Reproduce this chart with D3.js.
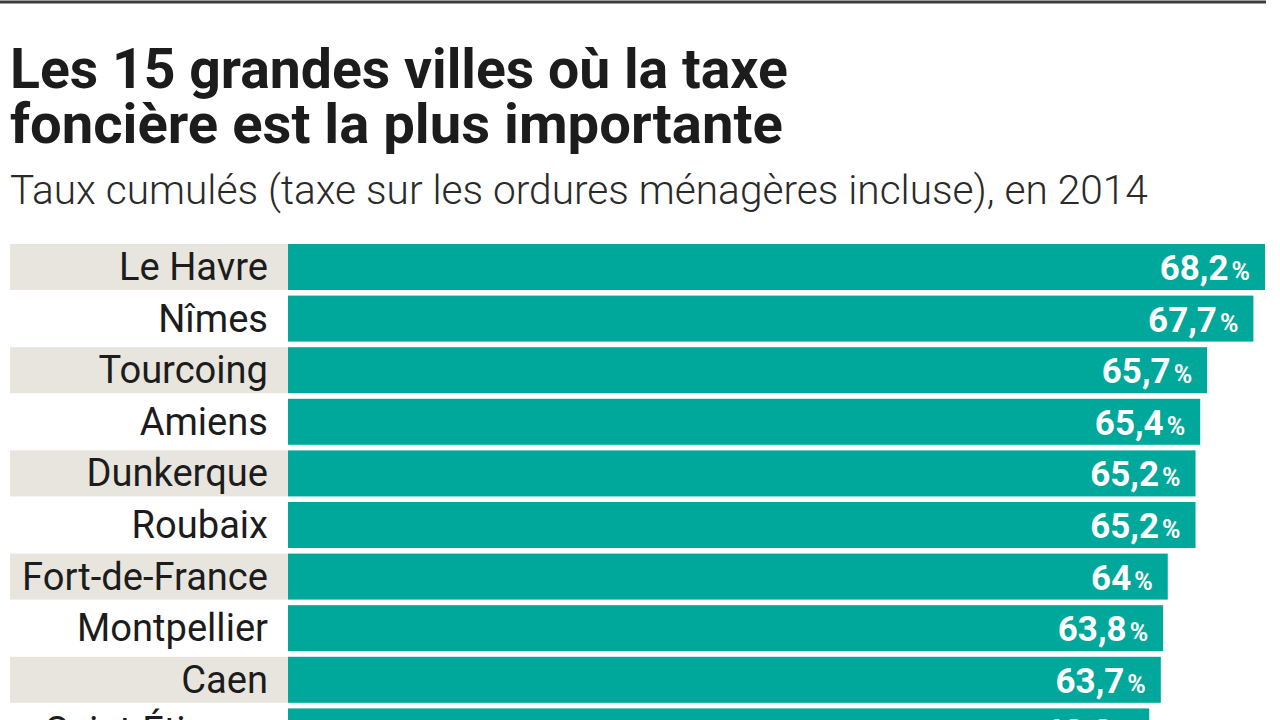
<!DOCTYPE html>
<html><head><meta charset="utf-8">
<script src="https://cdn.jsdelivr.net/npm/d3@7"></script>
<style>
html,body{margin:0;padding:0;background:#fff;}
svg{display:block;}
</style></head>
<body>
<svg id="c" width="1280" height="720"></svg>
<script>
const cities = ["Le Havre","Nîmes","Tourcoing","Amiens","Dunkerque","Roubaix","Fort-de-France","Montpellier","Caen","Saint-Étienne"];
const values = [68.2,67.7,65.7,65.4,65.2,65.2,64,63.8,63.7,63.2];
const titleLines = ["Les 15 grandes villes où la taxe","foncière est la plus importante"];
const subtitle = "Taux cumulés (taxe sur les ordures ménagères incluse), en 2014";

const svg = d3.select("#c");

// top rule
svg.append("line").attr("x1",0).attr("x2",1266).attr("y1",2).attr("y2",2)
  .attr("stroke","#3c3c3c").attr("stroke-width",3);

function squeeze(sel, target){
  const w = sel.node().getComputedTextLength();
  if (w > target) sel.attr("textLength", target).attr("lengthAdjust","spacingAndGlyphs");
  else {
    const fs = parseFloat(sel.attr("font-size"));
    sel.attr("font-size", fs*target/w);
  }
}

const t1 = svg.append("text").attr("x",10).attr("y",88).text(titleLines[0])
  .attr("font-family","Roboto, 'Open Sans', sans-serif").attr("font-weight",700)
  .attr("font-size",45).attr("fill","#1c1c1c");
squeeze(t1, 778);
const t2 = svg.append("text").attr("x",10).attr("y",143).text(titleLines[1])
  .attr("font-family","Roboto, 'Open Sans', sans-serif").attr("font-weight",700)
  .attr("font-size",45).attr("fill","#1c1c1c");
squeeze(t2, 773);
const st = svg.append("text").attr("x",10).attr("y",204).text(subtitle)
  .attr("font-family","Roboto, sans-serif").attr("font-weight",300)
  .attr("font-size",33).attr("fill","#2a2a2a");
squeeze(st, 1138);

const pitch = 51.6, bh = 46;
const x = d3.scaleLinear().domain([26, 68.2]).range([288, 1265]);
const y = d3.scaleBand().domain(cities).range([244, 244 + (cities.length-1)*pitch + bh])
  .paddingInner((pitch-bh)/pitch).paddingOuter(0);

const rows = svg.append("g").selectAll("g").data(cities).join("g");

rows.filter((d,i)=> i%2===0).append("rect")
  .attr("x",10).attr("width",278)
  .attr("y",d=>y(d)).attr("height",y.bandwidth())
  .attr("fill","#e7e5de");

rows.append("rect")
  .attr("x",x(26))
  .attr("y",d=>y(d)).attr("height",y.bandwidth())
  .attr("width",(d,i)=> x(values[i]) - x(26))
  .attr("fill","#00a89b");

const labels = rows.append("text")
  .attr("x",268).attr("y",d=>y(d)+36)
  .attr("text-anchor","end")
  .attr("font-family","Roboto, sans-serif").attr("font-weight",400)
  .attr("font-size",31).attr("fill","#1c1c1c")
  .text(d=>d);
const ffNode = labels.filter(d=>d==="Fort-de-France");
const fw = ffNode.node().getComputedTextLength();
labels.attr("font-size", 31*246/fw);

const fmt = v => String(v).replace(".",",");
const vl = rows.append("text")
  .attr("x",(d,i)=> x(values[i]) - 15)
  .attr("y",d=>y(d)+36)
  .attr("text-anchor","end")
  .attr("font-family","Roboto, sans-serif").attr("font-weight",700)
  .attr("fill","#ffffff");
vl.append("tspan").attr("font-size",35).text((d,i)=>fmt(values[i]));
vl.append("tspan").attr("font-size",25).attr("dx",3).text("%");
</script>
</body></html>
